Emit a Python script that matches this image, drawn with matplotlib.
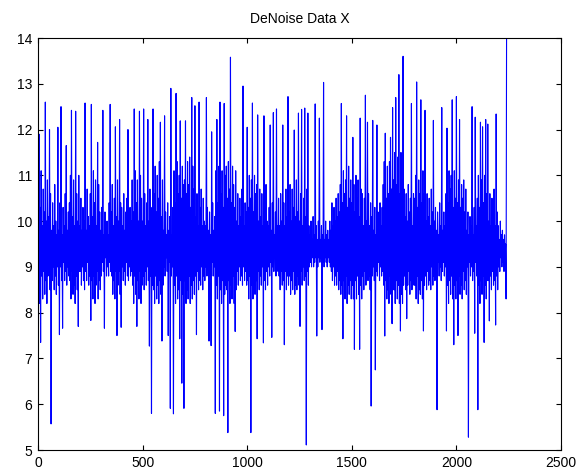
import numpy as np
import matplotlib
matplotlib.use("Agg")
import matplotlib.pyplot as plt

# Sample spacing and tick labels
step = 2.5
x_ticks = [0, 500, 1000, 1500, 2000, 2500]
y_ticks = [5, 6, 7, 8, 9, 10, 11, 12, 13, 14]
title = "DeNoise Data X"

# Upward swings of the signal (one row per 50 index units)
highs = [
    11.2, 11.9, 10.3, 11.1, 9.9, 10.7, 10.2, 12.6, 10.0, 10.9,
    10.1, 12.0, 10.6, 9.8, 10.4, 9.9, 10.8, 10.0, 9.7, 12.05,
    9.8, 10.4, 12.5, 9.7, 10.3, 9.9, 10.6, 11.65, 9.8, 10.2,
    10.4, 11.0, 12.42, 10.1, 10.9, 9.9, 12.4, 10.6, 10.0, 11.0,
    9.9, 10.5, 9.8, 10.3, 10.0, 12.58, 9.8, 10.7, 10.1, 9.9,
    10.6, 12.55, 10.1, 11.1, 10.4, 10.9, 9.9, 11.72, 10.8, 10.2,
    9.8, 10.3, 12.42, 9.7, 10.2, 9.8, 10.0, 9.7, 10.4, 12.55,
    10.2, 10.8, 9.9, 10.5, 12.06, 10.1, 10.9, 10.0, 12.22, 10.4,
    10.3, 9.9, 10.6, 9.8, 10.2, 10.5, 12.0, 9.9, 10.3, 10.0,
    10.9, 10.2, 12.45, 11.1, 10.4, 10.9, 10.0, 12.4, 11.0, 10.5,
    10.0, 12.45, 10.6, 9.9, 10.4, 12.22, 10.0, 10.7, 9.9, 10.3,
    12.45, 10.6, 11.2, 10.2, 11.0, 10.5, 11.3, 12.16, 10.1, 10.9,
    9.8, 12.3, 10.2, 9.7, 10.4, 9.8, 10.1, 12.9, 9.7, 10.3,
    11.1, 10.4, 12.79, 11.3, 10.6, 11.0, 12.19, 10.5, 11.2, 10.8,
    10.9, 12.19, 10.6, 11.3, 10.8, 11.4, 10.3, 12.7, 11.2, 10.7,
    12.52, 10.1, 10.6, 9.9, 12.6, 10.3, 10.7, 9.9, 10.5, 10.0,
    9.9, 12.7, 10.3, 9.8, 10.2, 9.7, 11.95, 10.4, 9.8, 10.1,
    11.1, 12.22, 10.4, 11.2, 12.6, 10.6, 11.1, 10.3, 12.57, 11.0,
    11.2, 10.5, 11.3, 10.7, 13.58, 10.4, 11.2, 10.8, 10.3, 11.1,
    10.0, 10.6, 9.9, 10.5, 10.1, 10.7, 12.95, 9.9, 10.4, 10.2,
    12.05, 10.3, 11.0, 10.5, 10.9, 12.58, 10.2, 11.0, 10.6, 10.8,
    12.32, 10.0, 10.7, 10.1, 10.6, 9.9, 12.3, 10.4, 10.8, 10.0,
    9.9, 10.3, 12.1, 9.8, 10.4, 12.37, 9.7, 10.2, 12.45, 9.9,
    10.5, 9.9, 10.6, 10.0, 12.1, 10.4, 9.9, 10.7, 10.1, 12.72,
    10.2, 10.8, 10.0, 10.7, 10.3, 11.99, 10.1, 10.9, 10.2, 12.36,
    10.0, 10.6, 12.44, 9.9, 10.5, 12.47, 10.1, 10.7, 12.36, 9.9,
    9.7, 10.0, 9.6, 10.1, 9.7, 12.56, 9.9, 9.6, 10.0, 12.25,
    9.6, 9.9, 9.7, 13.03, 9.6, 10.0, 9.7, 9.8, 9.6, 10.0,
    9.8, 10.4, 9.9, 10.3, 10.0, 10.5, 10.1, 10.6, 10.2, 10.8,
    12.57, 10.4, 11.1, 10.6, 10.9, 12.3, 10.3, 11.2, 10.5, 10.9,
    10.4, 11.83, 10.8, 10.2, 11.0, 10.5, 10.9, 10.1, 12.25, 10.7,
    10.6, 9.9, 10.5, 12.75, 10.0, 12.16, 10.6, 9.9, 10.4, 10.1,
    12.2, 9.8, 10.3, 9.7, 12.1, 10.2, 9.8, 10.4, 9.9, 10.3,
    10.8, 11.3, 11.92, 10.5, 11.2, 10.6, 11.3, 11.83, 10.7, 12.48,
    10.9, 11.5, 12.7, 10.8, 11.4, 13.2, 10.6, 11.5, 10.9, 13.6,
    10.7, 10.1, 10.6, 10.0, 10.8, 10.2, 10.5, 12.57, 9.9, 10.6,
    10.5, 11.0, 13.04, 10.3, 10.9, 10.6, 12.65, 10.4, 11.1, 10.6,
    12.42, 10.0, 10.6, 10.1, 10.5, 9.9, 10.7, 10.2, 12.2, 10.0,
    10.3, 9.8, 10.2, 9.7, 10.4, 9.9, 12.48, 9.8, 10.2, 9.9,
    10.6, 12.03, 10.4, 11.1, 10.7, 11.0, 12.65, 10.3, 11.1, 10.5,
    12.72, 10.4, 10.9, 12.22, 10.3, 10.8, 10.5, 10.9, 10.2, 10.7,
    9.8, 10.2, 9.7, 10.1, 9.9, 12.5, 9.7, 10.3, 12.27, 9.9,
    10.5, 11.0, 10.3, 12.16, 10.9, 12.06, 10.4, 11.0, 12.22, 10.6,
    12.12, 10.0, 10.6, 9.9, 10.5, 10.1, 10.7, 9.9, 12.34, 10.2,
    9.9, 9.6, 10.0, 9.7, 9.8, 9.6, 9.7, 9.5, 14.5,
]

# Downward swings of the signal (one row per 50 index units)
lows = [
    8.6, 8.2, 7.35, 8.8, 8.3, 8.9, 8.4, 8.7, 8.2, 8.8,
    8.9, 8.5, 5.57, 8.7, 9.0, 8.5, 8.8, 8.4, 9.0, 8.6,
    7.52, 9.0, 8.7, 7.66, 9.1, 8.7, 8.9, 8.6, 9.0, 8.8,
    8.7, 8.3, 8.9, 8.4, 8.6, 8.2, 8.8, 8.5, 7.7, 8.9,
    8.9, 8.6, 9.0, 8.7, 8.5, 8.9, 8.7, 9.1, 8.6, 8.8,
    7.83, 8.7, 8.3, 8.8, 8.2, 8.6, 8.9, 8.3, 8.7, 8.5,
    8.8, 9.1, 8.9, 7.66, 9.2, 8.8, 9.0, 8.8, 9.1, 8.9,
    8.8, 8.4, 8.7, 8.3, 8.9, 7.5, 8.6, 8.9, 8.4, 7.68,
    9.0, 8.7, 8.9, 8.6, 9.1, 8.8, 8.7, 9.0, 8.8, 8.9,
    8.6, 8.2, 8.8, 8.4, 7.7, 8.7, 8.3, 8.9, 8.2, 8.6,
    8.8, 8.5, 8.9, 8.6, 9.0, 8.7, 7.27, 8.8, 5.8, 8.6,
    8.5, 8.2, 8.8, 8.3, 8.6, 8.2, 8.7, 8.4, 7.38, 8.6,
    9.0, 8.8, 9.2, 8.9, 7.5, 9.1, 5.91, 8.8, 9.0, 5.79,
    8.6, 8.2, 8.8, 8.3, 8.5, 7.43, 8.7, 6.46, 8.4, 5.91,
    8.7, 8.2, 8.5, 8.3, 8.8, 8.2, 8.6, 8.3, 8.7, 8.4,
    8.8, 7.52, 8.9, 8.5, 8.7, 8.6, 9.0, 8.5, 8.8, 8.7,
    9.0, 8.8, 9.1, 7.38, 8.9, 7.28, 9.1, 8.8, 9.0, 5.8,
    8.6, 8.3, 8.8, 5.85, 8.5, 8.2, 8.7, 5.75, 8.4, 8.6,
    8.5, 5.38, 8.7, 8.2, 8.6, 8.3, 8.8, 8.2, 7.59, 8.5,
    8.9, 8.6, 9.0, 8.7, 8.8, 8.6, 9.0, 8.7, 8.9, 8.6,
    8.7, 8.3, 8.8, 5.38, 8.6, 8.3, 8.8, 8.4, 8.7, 7.43,
    8.9, 8.5, 8.8, 8.6, 9.0, 7.34, 8.7, 8.5, 8.9, 8.6,
    9.0, 8.8, 9.1, 7.46, 9.0, 8.9, 9.2, 8.8, 9.0, 8.9,
    8.8, 8.5, 8.9, 8.6, 8.7, 7.3, 8.9, 8.5, 8.8, 8.6,
    8.8, 8.4, 8.7, 8.5, 8.9, 8.4, 8.6, 8.5, 8.8, 8.6,
    7.7, 8.9, 8.6, 9.0, 8.7, 8.8, 5.11, 8.9, 8.6, 9.0,
    9.1, 9.0, 9.2, 9.0, 9.1, 9.2, 7.49, 9.0, 9.2, 9.1,
    9.2, 7.63, 9.1, 9.0, 9.2, 9.1, 9.0, 9.2, 9.1, 9.0,
    8.9, 8.7, 9.0, 8.6, 8.8, 8.6, 8.9, 8.5, 8.7, 8.4,
    8.6, 7.43, 8.7, 8.3, 8.8, 8.2, 8.6, 8.4, 8.7, 8.3,
    8.6, 8.3, 7.2, 8.7, 8.3, 8.8, 8.4, 7.2, 8.6, 8.3,
    8.8, 8.5, 8.9, 8.6, 9.0, 8.7, 8.8, 8.5, 5.96, 8.8,
    9.0, 8.7, 6.75, 8.9, 8.8, 9.1, 8.7, 9.0, 8.8, 8.9,
    8.6, 7.49, 8.7, 8.3, 8.5, 8.2, 8.8, 8.4, 7.76, 8.5,
    8.5, 8.2, 8.7, 8.3, 8.6, 8.2, 7.6, 8.4, 8.2, 8.6,
    8.8, 8.5, 7.87, 8.6, 8.9, 8.4, 8.7, 8.5, 8.8, 8.6,
    8.6, 8.3, 8.8, 8.2, 8.5, 8.4, 8.7, 8.3, 7.6, 8.6,
    8.8, 8.5, 8.9, 8.6, 8.7, 8.5, 9.0, 8.6, 8.8, 8.7,
    9.0, 5.88, 9.1, 8.8, 9.0, 8.7, 8.9, 9.1, 8.8, 9.0,
    7.6, 8.6, 8.2, 8.7, 8.4, 8.8, 8.3, 7.3, 8.6, 8.3,
    8.7, 7.5, 8.8, 8.4, 8.6, 8.3, 8.9, 8.5, 8.7, 8.4,
    9.0, 5.28, 9.1, 8.8, 9.0, 8.7, 8.9, 7.55, 9.1, 8.8,
    5.88, 8.6, 8.2, 8.7, 8.4, 8.8, 7.35, 8.6, 8.3, 8.7,
    8.7, 7.82, 8.8, 8.5, 8.9, 8.6, 8.7, 7.73, 8.8, 8.5,
    9.0, 8.9, 9.2, 9.0, 9.1, 8.9, 9.0, 8.3,
]

# The series alternates up and down swings
series = np.empty(len(highs) + len(lows))
series[0::2] = highs
series[1::2] = lows
x = np.arange(len(series)) * step

fig = plt.figure(figsize=(5.87, 4.70), dpi=100)
ax = fig.add_axes([38 / 587, 20 / 470, 523 / 587, 412 / 470])
ax.plot(x, series, color="#0000ff", linewidth=0.8)

ax.set_xlim(0, 2500)
ax.set_ylim(5, 14)
ax.set_xticks(x_ticks)
ax.set_yticks(y_ticks)
ax.set_xticklabels([str(t) for t in x_ticks])
ax.set_yticklabels([str(t) for t in y_ticks])
for lab in ax.get_xticklabels() + ax.get_yticklabels():
    lab.set_family("Liberation Sans")
    lab.set_fontsize(10)
ax.tick_params(direction="in", top=True, right=True, length=3.5, width=0.8, pad=4)
for s in ax.spines.values():
    s.set_linewidth(0.8)
ax.set_title(title, fontsize=10, family="Liberation Sans", pad=11)

fig.savefig("out.png", dpi=100)
